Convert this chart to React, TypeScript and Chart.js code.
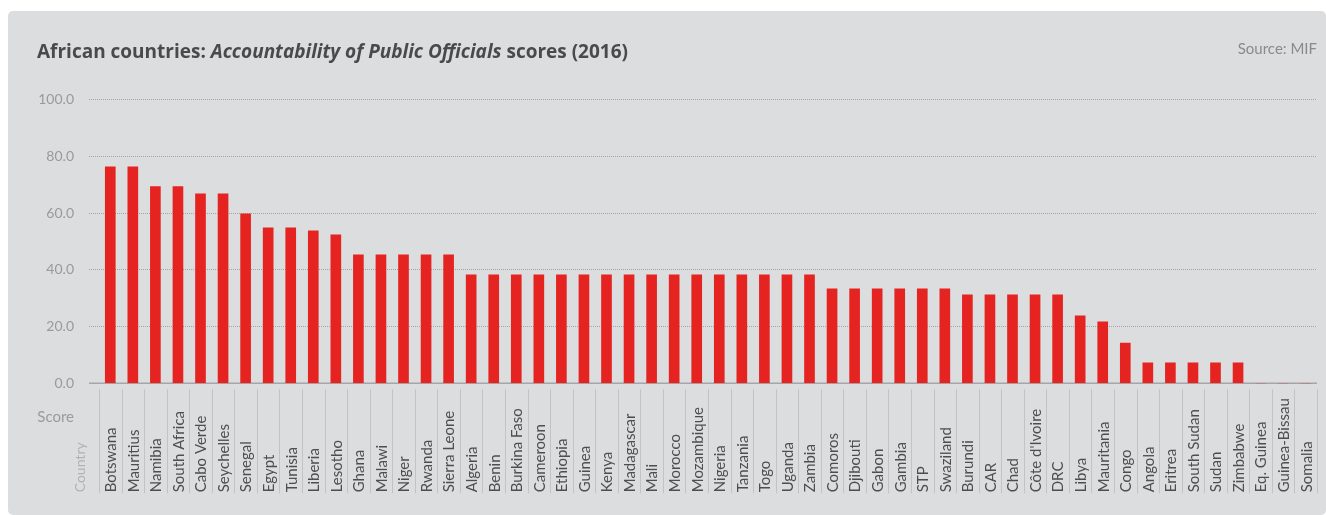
import React, { useEffect, useRef } from "react";
import { Chart, registerables } from "chart.js";

Chart.register(...registerables);

const countries: string[] = [
  "Botswana", "Mauritius", "Namibia", "South Africa", "Cabo Verde", "Seychelles", "Senegal", "Egypt", "Tunisia", "Liberia",
  "Lesotho", "Ghana", "Malawi", "Niger", "Rwanda", "Sierra Leone", "Algeria", "Benin", "Burkina Faso", "Cameroon",
  "Ethiopia", "Guinea", "Kenya", "Madagascar", "Mali", "Morocco", "Mozambique", "Nigeria", "Tanzania", "Togo",
  "Uganda", "Zambia", "Comoros", "Djibouti", "Gabon", "Gambia", "STP", "Swaziland", "Burundi", "CAR",
  "Chad", "Côte d'Ivoire", "DRC", "Libya", "Mauritania", "Congo", "Angola", "Eritrea", "South Sudan", "Sudan",
  "Zimbabwe", "Eq. Guinea", "Guinea-Bissau", "Somalia",
];

const scores: number[] = [
  76.3, 76.3, 69.3, 69.3, 66.8, 66.8, 59.7, 54.8, 54.8, 53.7,
  52.3, 45.3, 45.3, 45.3, 45.3, 45.3, 38.2, 38.2, 38.2, 38.2,
  38.2, 38.2, 38.2, 38.2, 38.2, 38.2, 38.2, 38.2, 38.2, 38.2,
  38.2, 38.2, 33.3, 33.3, 33.3, 33.3, 33.3, 33.3, 31.2, 31.2,
  31.2, 31.2, 31.2, 23.8, 21.7, 14.2, 7.2, 7.2, 7.2, 7.2,
  7.2, 0, 0, 0,
];

const yTicks: number[] = [0, 20, 40, 60, 80, 100];

const titleParts: { text: string; italic: boolean }[] = [
  { text: "African countries: ", italic: false },
  { text: "Accountability of Public Officials", italic: true },
  { text: " scores (2016)", italic: false },
];
const sourceText = "Source: MIF";
const yAxisName = "Score";
const xAxisName = "Country";

const FONT = "Lato, 'Open Sans', sans-serif";
const TITLE_FONT = "'Open Sans', Lato, sans-serif";
const W = 1318;
const H = 504;

const decorPlugin = {
  id: "decor",
  beforeDatasetsDraw(chart: any) {
    const { ctx, chartArea, scales } = chart;
    const y0 = scales.y.getPixelForValue(0);
    ctx.save();
    ctx.strokeStyle = "#a6a6a8";
    ctx.lineWidth = 1.5;
    ctx.beginPath();
    ctx.moveTo(chartArea.left - 10, y0);
    ctx.lineTo(chartArea.right, y0);
    ctx.stroke();
    ctx.restore();
  },
  afterDraw(chart: any) {
    const { ctx, chartArea, scales } = chart;
    const x = scales.x;
    const y0 = scales.y.getPixelForValue(0);
    ctx.save();
    // title
    ctx.textBaseline = "alphabetic";
    ctx.fillStyle = "#4a4a4c";
    let tx = 29;
    for (const p of titleParts) {
      ctx.font = `${p.italic ? "italic " : ""}bold 19px ${TITLE_FONT}`;
      ctx.fillText(p.text, tx, 47);
      tx += ctx.measureText(p.text).width;
    }
    // source
    ctx.font = `15px ${FONT}`;
    ctx.fillStyle = "#8a8a8c";
    ctx.textAlign = "right";
    ctx.fillText(sourceText, chartArea.right, 43);
    // category dividers
    ctx.strokeStyle = "#c3c3c5";
    ctx.lineWidth = 1;
    for (let i = 0; i <= countries.length; i++) {
      const px = Math.round(x.getPixelForValue(i - 0.5)) + 0.5;
      ctx.beginPath();
      ctx.moveTo(px, y0 + 6);
      ctx.lineTo(px, y0 + 110);
      ctx.stroke();
    }
    // category labels
    ctx.font = `15px ${FONT}`;
    ctx.fillStyle = "#4e4e50";
    ctx.textAlign = "left";
    ctx.textBaseline = "middle";
    countries.forEach((c, i) => {
      const cx = x.getPixelForValue(i);
      ctx.save();
      ctx.translate(cx + 1, y0 + 109);
      ctx.rotate(-Math.PI / 2);
      ctx.fillText(c, 0, 0);
      ctx.restore();
    });
    // axis names
    ctx.font = `15px ${FONT}`;
    ctx.fillStyle = "#9a9a9c";
    ctx.textAlign = "right";
    ctx.textBaseline = "alphabetic";
    ctx.fillText(yAxisName, 66, y0 + 39);
    ctx.save();
    ctx.font = `14px ${FONT}`;
    ctx.fillStyle = "#b2b2b4";
    ctx.translate(72, y0 + 109);
    ctx.rotate(-Math.PI / 2);
    ctx.textAlign = "left";
    ctx.textBaseline = "middle";
    ctx.fillText(xAxisName, 0, 0);
    ctx.restore();
    ctx.restore();
  },
};

export default function App() {
  const ref = useRef<HTMLCanvasElement | null>(null);
  useEffect(() => {
    if (!ref.current) return;
    const chart = new Chart(ref.current, {
      type: "bar",
      data: {
        labels: countries,
        datasets: [
          {
            label: "Score",
            data: scores,
            backgroundColor: "#e52421",
            borderWidth: 0,
            barThickness: 10,
          },
        ],
      },
      options: {
        responsive: false,
        animation: false,
        maintainAspectRatio: false,
        layout: { padding: { top: 88.5, right: 9, bottom: 131.7, left: 0 } },
        plugins: {
          legend: { display: false },
          tooltip: { enabled: false },
          title: { display: false },
        },
        scales: {
          x: {
            type: "category",
            offset: true,
            grid: { display: false, drawTicks: false, tickLength: 0 },
            border: { display: false },
            ticks: { display: false, padding: 0 },
          },
          y: {
            min: 0,
            max: 100,
            afterBuildTicks: (s: any) => {
              s.ticks = yTicks.map((v) => ({ value: v }));
            },
            afterFit: (s: any) => {
              s.width = 91;
            },
            grid: {
              color: (c: any) => (c.tick && c.tick.value === 0 ? "rgba(0,0,0,0)" : "#a4a4a6"),
              tickColor: (c: any) => (c.tick && c.tick.value === 0 ? "rgba(0,0,0,0)" : "#a4a4a6"),
              lineWidth: 1,
              tickLength: 10,
              tickBorderDash: [1, 1],
            },
            border: { display: false, dash: [1, 1] },
            ticks: {
              padding: 15,
              color: "#9a9a9c",
              font: { family: FONT, size: 14 },
              callback: (v: any) => Number(v).toFixed(1),
            },
          },
        },
      },
      plugins: [decorPlugin],
    });
    return () => chart.destroy();
  }, []);
  return (
    <div
      style={{
        position: "fixed",
        left: 8,
        top: 11,
        right: 0,
        bottom: 0,
        background: "#dcdddf",
        borderRadius: 5,
        overflow: "hidden",
      }}
    >
      <canvas ref={ref} width={W} height={H} style={{ display: "block", width: W, height: H }} />
    </div>
  );
}
